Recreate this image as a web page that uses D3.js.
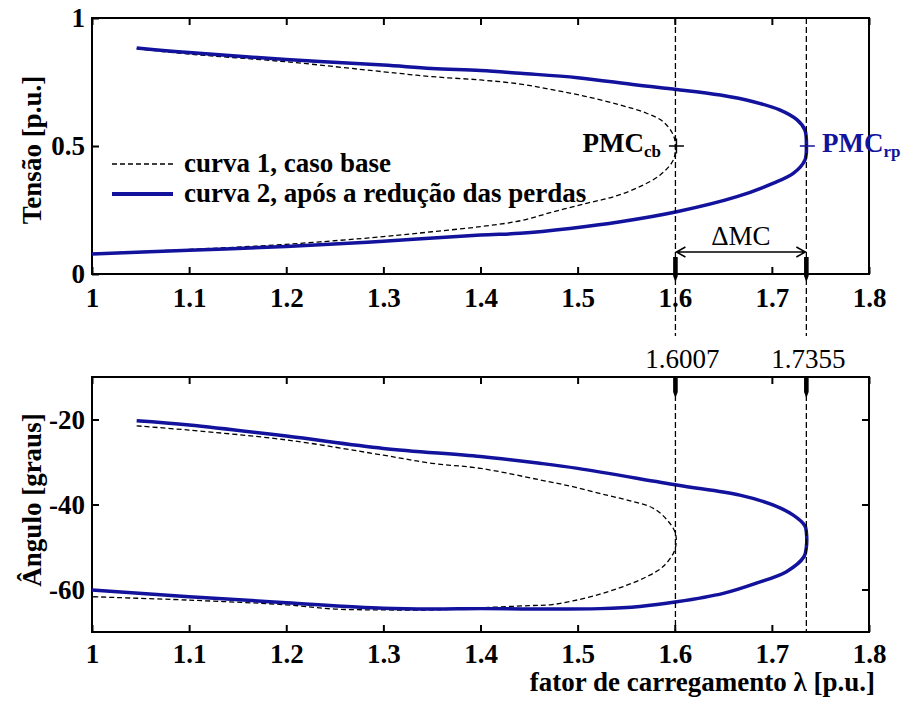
<!DOCTYPE html>
<html>
<head>
<meta charset="utf-8">
<script src="https://cdn.jsdelivr.net/npm/d3@7"></script>
<style>
  html, body { margin: 0; padding: 0; background: #fff; }
  svg { display: block; }
  text { font-family: "Liberation Serif", "Times New Roman", serif; }
</style>
</head>
<body>
<svg id="chart" width="905" height="704"></svg>
<script>
// ---- data -------------------------------------------------------------
// Curva 1 (caso base): tensão vs. fator de carregamento
const lambdaV1 = [1.046, 1.1, 1.2, 1.3, 1.35, 1.4, 1.441, 1.475, 1.509, 1.544, 1.571, 1.588, 1.5985, 1.6007,
                  1.5985, 1.585, 1.564, 1.537, 1.509, 1.475, 1.441, 1.4, 1.35, 1.3, 1.2, 1.1, 1.0];
const tensao1  = [0.880, 0.859, 0.829, 0.790, 0.771, 0.758, 0.742, 0.719, 0.693, 0.660, 0.628, 0.595, 0.543, 0.500,
                  0.445, 0.387, 0.341, 0.302, 0.276, 0.243, 0.208, 0.185, 0.165, 0.146, 0.116, 0.096, 0.080];
// Curva 2 (após a redução das perdas)
const lambdaV2 = [1.046, 1.1, 1.2, 1.3, 1.35, 1.4, 1.441, 1.5, 1.561, 1.602, 1.647, 1.681, 1.708, 1.726, 1.734, 1.7355,
                  1.734, 1.722, 1.701, 1.664, 1.602, 1.544, 1.492, 1.441, 1.4, 1.3, 1.2, 1.1, 1.0];
const tensao2  = [0.883, 0.865, 0.838, 0.816, 0.803, 0.795, 0.784, 0.767, 0.738, 0.721, 0.699, 0.673, 0.641, 0.602, 0.5625, 0.500,
                  0.445, 0.393, 0.354, 0.302, 0.243, 0.204, 0.178, 0.159, 0.152, 0.128, 0.107, 0.093, 0.078];

// Ângulo vs. fator de carregamento
const lambdaA1 = [1.046, 1.1, 1.2, 1.3, 1.35, 1.4, 1.461, 1.495, 1.53, 1.557, 1.578, 1.592, 1.6007, 1.6,
                  1.588, 1.571, 1.547, 1.523, 1.495, 1.472, 1.45, 1.4, 1.35, 1.3, 1.25, 1.2, 1.1, 1.0];
const angulo1  = [-21.5, -22.5, -24.8, -28.4, -30.3, -31.5, -34.2, -35.8, -37.8, -39.3, -40.9, -43.6, -46.8, -50.7,
                  -54.6, -57.0, -59.3, -61.1, -62.7, -63.6, -63.8, -64.3, -64.8, -64.8, -64.6, -63.6, -62.5, -61.7];
const lambdaA2 = [1.046, 1.1, 1.2, 1.3, 1.4, 1.461, 1.5, 1.602, 1.667, 1.701, 1.722, 1.734, 1.7355, 1.7355,
                  1.733, 1.715, 1.684, 1.65, 1.602, 1.564, 1.523, 1.461, 1.4, 1.35, 1.3, 1.2, 1.1, 1.0];
const angulo2  = [-20.3, -21.3, -23.9, -26.8, -28.7, -30.3, -31.5, -35.4, -37.8, -40.1, -42.5, -45.0, -46.5, -50.0,
                  -52.3, -55.8, -58.5, -60.9, -62.9, -64.0, -64.5, -64.6, -64.5, -64.6, -64.4, -63.1, -61.7, -60.1];

// Pontos de máximo carregamento
const pmc = [1.6007, 1.7355];
const pmcLabels = ["1.6007", "1.7355"];

// Ticks
const xTicks = [1, 1.1, 1.2, 1.3, 1.4, 1.5, 1.6, 1.7, 1.8];
const xTickLabels = ["1", "1.1", "1.2", "1.3", "1.4", "1.5", "1.6", "1.7", "1.8"];
const vTicks = [0, 0.5, 1];
const vTickLabels = ["0", "0.5", "1"];
const aTicks = [-60, -40, -20];
const aTickLabels = ["-60", "-40", "-20"];

const legendLabels = ["curva 1, caso base", "curva 2, após a redução das perdas"];

// ---- layout -----------------------------------------------------------
const BLUE = "#12129c";
const FS = 27;
const svg = d3.select("#chart");
const left = 92, right = 869;
const top1 = 18, bot1 = 274;
const top2 = 377, bot2 = 632;

const x = d3.scaleLinear().domain([1, 1.8]).range([left, right]);
const yV = d3.scaleLinear().domain([0, 1]).range([bot1, top1]);
const yA = d3.scaleLinear().domain([-70, -10]).range([bot2, top2]);

function styleAxis(g, labelled) {
  g.select(".domain").remove();
  g.selectAll(".tick line").attr("stroke", "#000").attr("stroke-width", 2);
  g.selectAll(".tick text")
    .attr("fill", "#000")
    .style("font-family", '"Liberation Serif", serif')
    .style("font-size", FS + "px")
    .style("font-weight", "bold");
  if (!labelled) g.selectAll(".tick text").remove();
}

function fmt(vals, labels) { return d => labels[vals.indexOf(d)]; }

// Top panel axes
svg.append("g").attr("transform", `translate(0,${bot1})`)
  .call(d3.axisBottom(x).tickValues(xTicks).tickFormat(fmt(xTicks, xTickLabels)).tickSize(-7).tickPadding(14))
  .call(g => styleAxis(g, true));
svg.append("g").attr("transform", `translate(0,${top1})`)
  .call(d3.axisTop(x).tickValues(xTicks).tickSize(-7))
  .call(g => styleAxis(g, false));
svg.append("g").attr("transform", `translate(${left},0)`)
  .call(d3.axisLeft(yV).tickValues(vTicks).tickFormat(fmt(vTicks, vTickLabels)).tickSize(-7).tickPadding(7))
  .call(g => styleAxis(g, true));

// Bottom panel axes
svg.append("g").attr("transform", `translate(0,${bot2})`)
  .call(d3.axisBottom(x).tickValues(xTicks).tickFormat(fmt(xTicks, xTickLabels)).tickSize(-7).tickPadding(12))
  .call(g => styleAxis(g, true));
svg.append("g").attr("transform", `translate(0,${top2})`)
  .call(d3.axisTop(x).tickValues(xTicks).tickSize(-7))
  .call(g => styleAxis(g, false));
svg.append("g").attr("transform", `translate(${left},0)`)
  .call(d3.axisLeft(yA).tickValues(aTicks).tickFormat(fmt(aTicks, aTickLabels)).tickSize(-7).tickPadding(7))
  .call(g => styleAxis(g, true));
svg.append("g").attr("transform", `translate(${right},0)`)
  .call(d3.axisRight(yA).tickValues(aTicks).tickSize(-7))
  .call(g => styleAxis(g, false));

// Frames
[[top1, bot1], [top2, bot2]].forEach(([t, b]) => {
  svg.append("rect").attr("x", left).attr("y", t).attr("width", right - left).attr("height", b - t)
    .attr("fill", "none").attr("stroke", "#000").attr("stroke-width", 2);
});

// ---- curves -----------------------------------------------------------
const lineV = d3.line().x(d => x(d[0])).y(d => yV(d[1])).curve(d3.curveCatmullRom.alpha(0.5));
const lineA = d3.line().x(d => x(d[0])).y(d => yA(d[1])).curve(d3.curveCatmullRom.alpha(0.5));

const zip = (a, b) => a.map((v, i) => [v, b[i]]);

svg.append("path").datum(zip(lambdaV1, tensao1)).attr("d", lineV)
  .attr("fill", "none").attr("stroke", "#000").attr("stroke-width", 1.3).attr("stroke-dasharray", "5,3");
svg.append("path").datum(zip(lambdaV2, tensao2)).attr("d", lineV)
  .attr("fill", "none").attr("stroke", BLUE).attr("stroke-width", 3.5).attr("stroke-linejoin", "round");

svg.append("path").datum(zip(lambdaA1, angulo1)).attr("d", lineA)
  .attr("fill", "none").attr("stroke", "#000").attr("stroke-width", 1.3).attr("stroke-dasharray", "5,3");
svg.append("path").datum(zip(lambdaA2, angulo2)).attr("d", lineA)
  .attr("fill", "none").attr("stroke", BLUE).attr("stroke-width", 3.5).attr("stroke-linejoin", "round");

// ---- maximum loading markers -------------------------------------------
pmc.forEach(v => {
  [[top1, 336], [top2, bot2]].forEach(([a, b]) => {
    svg.append("line").attr("x1", x(v)).attr("x2", x(v)).attr("y1", a).attr("y2", b)
      .attr("stroke", "#000").attr("stroke-width", 1.3).attr("stroke-dasharray", "6,3");
  });
  // thick pointers on the frames
  [[257, 282], [376, 398]].forEach(([a, b]) => {
    const cx = x(v);
    svg.append("path")
      .attr("d", `M${cx - 2.3},${a} L${cx + 2.3},${a} L${cx + 2.3},${b - 6} L${cx},${b} L${cx - 2.3},${b - 6} Z`)
      .attr("fill", "#000");
  });
});

// values of the maximum loading points above the lower panel
svg.selectAll(".pmc-label").data(pmc).join("text")
  .attr("class", "pmc-label")
  .attr("x", (d, i) => x(d) + (i === 0 ? 7 : 2))
  .attr("y", 368)
  .attr("text-anchor", "middle")
  .style("font-size", FS + "px")
  .text((d, i) => pmcLabels[i]);

// + markers at the nose points
const yNose = yV(0.5);
[[pmc[0], "#000"], [pmc[1], BLUE]].forEach(([v, c]) => {
  const cx = x(v) + 1;
  svg.append("path").attr("d", `M${cx - 7.5},${yNose} H${cx + 7.5} M${cx},${yNose - 7.5} V${yNose + 7.5}`)
    .attr("stroke", c).attr("stroke-width", 1.5);
});

const pmcCb = svg.append("text").attr("x", 661).attr("y", 152).attr("text-anchor", "end")
  .style("font-size", FS + "px").style("font-weight", "bold").attr("fill", "#000");
pmcCb.append("tspan").text("PMC");
pmcCb.append("tspan").attr("dy", 5).style("font-size", "17px").text("cb");

const pmcRp = svg.append("text").attr("x", 822).attr("y", 152)
  .style("font-size", FS + "px").style("font-weight", "bold").attr("fill", BLUE);
pmcRp.append("tspan").text("PMC");
pmcRp.append("tspan").attr("dy", 5).style("font-size", "17px").text("rp");

// ΔMC double arrow
const ay = 252, ax0 = x(pmc[0]), ax1 = x(pmc[1]);
svg.append("path")
  .attr("d", `M${ax0},${ay} H${ax1} M${ax0 + 10},${ay - 5} L${ax0 + 1},${ay} L${ax0 + 10},${ay + 5} M${ax1 - 10},${ay - 5} L${ax1 - 1},${ay} L${ax1 - 10},${ay + 5}`)
  .attr("fill", "none").attr("stroke", "#000").attr("stroke-width", 1.5);
svg.append("text").attr("x", (ax0 + ax1) / 2).attr("y", 245).attr("text-anchor", "middle")
  .style("font-size", FS + "px").text("ΔMC");

// ---- legend ------------------------------------------------------------
const lg = svg.append("g");
lg.append("line").attr("x1", 112).attr("x2", 173).attr("y1", 164).attr("y2", 164)
  .attr("stroke", "#000").attr("stroke-width", 1.3).attr("stroke-dasharray", "5,3");
lg.append("line").attr("x1", 112).attr("x2", 173).attr("y1", 194).attr("y2", 194)
  .attr("stroke", BLUE).attr("stroke-width", 4);
lg.selectAll("text").data(legendLabels).join("text")
  .attr("x", 184).attr("y", (d, i) => 172 + i * 30)
  .style("font-size", FS + "px").style("font-weight", "bold")
  .text(d => d);

// ---- axis titles -------------------------------------------------------
svg.append("text").attr("transform", "translate(41,150) rotate(-90)").attr("text-anchor", "middle")
  .style("font-size", FS + "px").style("font-weight", "bold").text("Tensão [p.u.]");
svg.append("text").attr("transform", "translate(41,500) rotate(-90)").attr("text-anchor", "middle")
  .style("font-size", FS + "px").style("font-weight", "bold").text("Ângulo [graus]");
svg.append("text").attr("x", 875).attr("y", 691).attr("text-anchor", "end")
  .style("font-size", FS + "px").style("font-weight", "bold").text("fator de carregamento λ [p.u.]");
</script>
</body>
</html>
